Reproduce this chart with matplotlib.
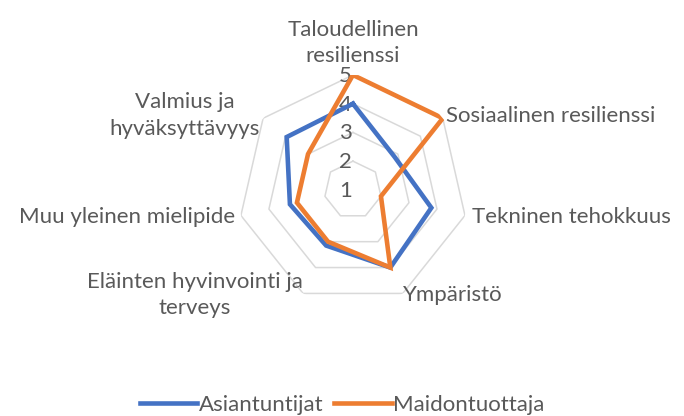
import numpy as np
import matplotlib.pyplot as plt
from matplotlib.transforms import offset_copy

plt.rcParams['font.family'] = ['Lato', 'DejaVu Sans']

categories = ["Taloudellinen\nresilienssi", "Sosiaalinen resilienssi", "Tekninen tehokkuus",
              "Ympäristö", "Eläinten hyvinvointi ja\nterveys", "Muu yleinen mielipide",
              "Valmius ja\nhyväksyttävyys"]
asiantuntijat = [4.0, 2.85, 3.8, 4.0, 3.15, 3.25, 3.95]
maidontuottaja = [5.0, 5.0, 2.0, 4.0, 3.0, 3.0, 3.0]
rings = [2, 3, 4, 5]
tick_labels = ["1", "2", "3", "4", "5"]

grey = "#595959"
fs = 16

fig = plt.figure(figsize=(6.84, 4.16), dpi=100)
ax = fig.add_axes([0.348, 0.267, 0.336, 0.553], projection="polar")
ax.set_theta_offset(np.pi / 2)
ax.set_theta_direction(-1)
ax.set_ylim(1, 5)
ax.axis("off")

n = len(categories)
theta = np.linspace(0, 2 * np.pi, n, endpoint=False)
closed = np.append(theta, theta[0])

# heptagon grid
for r in rings:
    ax.plot(closed, [r] * (n + 1), color="#D9D9D9", lw=1.1, zorder=1)

ax.plot(closed, asiantuntijat + asiantuntijat[:1], color="#4472C4", lw=3.3,
        label="Asiantuntijat", zorder=3, solid_joinstyle="miter")
ax.plot(closed, maidontuottaja + maidontuottaja[:1], color="#ED7D31", lw=3.3,
        label="Maidontuottaja", zorder=4, solid_joinstyle="miter")

# radial tick labels
tr = offset_copy(ax.transData, fig=fig, x=-1, y=-1, units="dots")
for i, t in enumerate(tick_labels):
    ax.text(0, i + 1, t, transform=tr, ha="right", va="center",
            fontsize=fs, color=grey, zorder=2, clip_on=False)

# category labels
placement = [(5.3, "center", "bottom"), (5.15, "left", "center"), (5.25, "left", "center"),
             (5.05, "left", "center"), (5.05, "right", "center"), (5.2, "right", "center"),
             (5.15, "right", "center")]
for th, lab, (r, ha, va) in zip(theta, categories, placement):
    ax.text(th, r, lab, ha=ha, va=va, multialignment="center",
            fontsize=fs, color=grey, clip_on=False, linespacing=1.4)

fig.legend(loc="center", bbox_to_anchor=(0.5, 11 / 416), ncol=2, frameon=False,
           fontsize=fs, labelcolor=grey, handlelength=2.6, handletextpad=0.05,
           columnspacing=0.5)

fig.savefig("out.png", dpi=100)
